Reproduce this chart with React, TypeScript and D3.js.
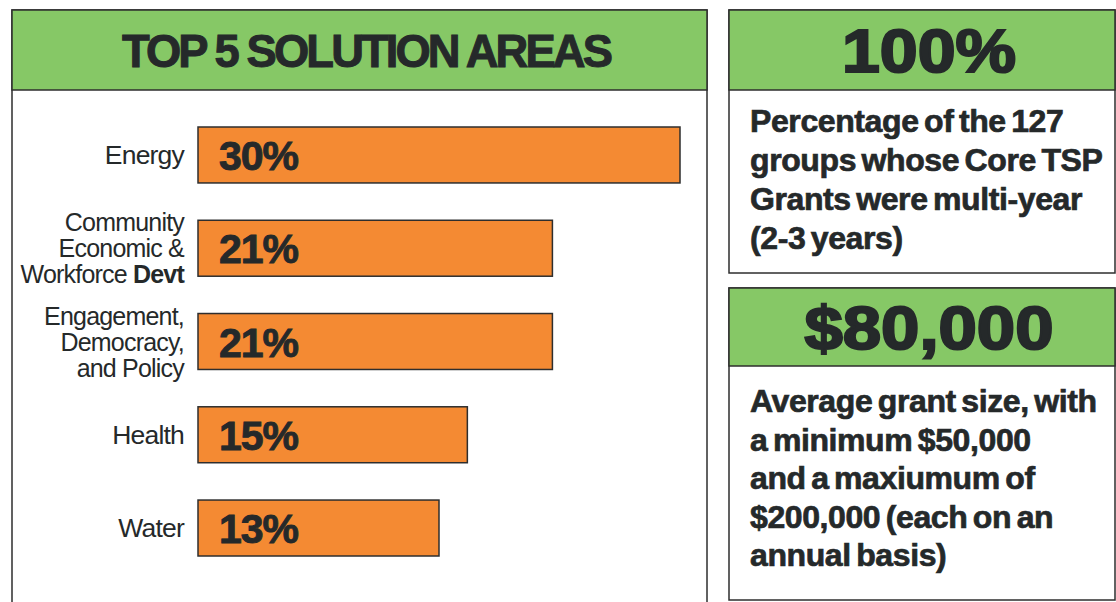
import React, { useEffect, useRef } from "react";
import * as d3 from "d3";

// chart data
const categories = ["Energy", "Community Economic & Workforce Devt", "Engagement, Democracy, and Policy", "Health", "Water"];
// label lines, "|" starts the bold part
const labelLines = [
  ["Energy"],
  ["Community", "Economic &", "Workforce |Devt"],
  ["Engagement,", "Democracy,", "and Policy"],
  ["Health"],
  ["Water"],
];
const shares = [30, 21, 21, 15, 13];
const title = "TOP 5 SOLUTION AREAS";

const statValues = ["100%", "$80,000"];
const statCaptions = [
  ["Percentage of the 127", "groups whose Core TSP", "Grants were multi-year", "(2-3 years)"],
  ["Average grant size, with", "a minimum $50,000", "and a maxiumum of", "$200,000 (each on an", "annual basis)"],
];

const GREEN = "#86c866";
const ORANGE = "#f48a33";
const INK = "#25292a";
const LINE = "#2e2e2e";

const App = () => {
  const ref = useRef<SVGSVGElement | null>(null);

  useEffect(() => {
    var svg = d3.select(ref.current);
    svg.selectAll("*").remove();

    // ---- left panel ----
    var left = svg.append("g");
    left
      .append("rect")
      .attr("x", 12)
      .attr("y", 10)
      .attr("width", 695)
      .attr("height", 640)
      .attr("fill", "#fff")
      .attr("stroke", LINE)
      .attr("stroke-width", 1.5);
    left
      .append("rect")
      .attr("x", 12)
      .attr("y", 10)
      .attr("width", 695)
      .attr("height", 80)
      .attr("fill", GREEN)
      .attr("stroke", LINE)
      .attr("stroke-width", 1.5);
    left
      .append("text")
      .attr("x", 122)
      .attr("y", 67)
      .attr("textLength", 488)
      .attr("lengthAdjust", "spacingAndGlyphs")
      .style("font-family", "'Liberation Sans Narrow', 'Arial Narrow', sans-serif")
      .style("font-weight", 700)
      .style("font-size", "47px")
      .style("letter-spacing", "-3px")
      .attr("fill", INK)
      .attr("stroke", INK)
      .attr("stroke-width", 1)
      .text(title);

    var x0 = 198;
    var xScale = d3.scaleLinear().domain([-4, 30]).range([0, 482]);
    var yScale = d3.scaleBand().domain(categories).range([127, 556]).paddingInner(0.4);

    var rows = left
      .selectAll(".row")
      .data(categories)
      .enter()
      .append("g")
      .attr("class", "row");

    rows
      .append("rect")
      .attr("x", x0)
      .attr("y", (d) => yScale(d) as number)
      .attr("width", (d, i) => xScale(shares[i]))
      .attr("height", yScale.bandwidth())
      .attr("fill", ORANGE)
      .attr("stroke", LINE)
      .attr("stroke-width", 1.5);

    rows
      .append("text")
      .attr("x", x0 + 21)
      .attr("y", (d) => (yScale(d) as number) + yScale.bandwidth() / 2 + 15)
      .style("font-family", "'Liberation Sans', Arial, sans-serif")
      .style("font-weight", 700)
      .style("font-size", "41px")
      .style("letter-spacing", "-1px")
      .attr("fill", INK)
      .attr("stroke", INK)
      .attr("stroke-width", 0.9)
      .text((d, i) => shares[i] + "%");

    var lh = 26;
    rows.each(function (d, i) {
      var lines = labelLines[i];
      var cy = (yScale(d) as number) + yScale.bandwidth() / 2;
      var t = d3
        .select(this)
        .append("text")
        .attr("text-anchor", "end")
        .style("font-family", "'Liberation Sans', Arial, sans-serif")
        .style("font-size", lines.length > 1 ? "25px" : "26.5px")
        .style("letter-spacing", "-0.8px")
        .attr("fill", INK);
      lines.forEach(function (ln, j) {
        var by = cy + (j - (lines.length - 1) / 2) * lh + 9;
        var parts = ln.split("|");
        t.append("tspan").attr("x", 184).attr("y", by).text(parts[0]);
        if (parts[1]) {
          t.append("tspan").style("font-weight", 700).text(parts[1]);
        }
      });
    });

    // ---- right stat panels ----
    var boxes = [
      { y: 10, head: 80, h: 263 },
      { y: 288, head: 78, h: 312 },
    ];
    var capStart = [132, 412];
    var capLh = [39, 38.5];
    var statW = [174, 249];

    boxes.forEach(function (b, k) {
      var g = svg.append("g");
      g.append("rect")
        .attr("x", 729)
        .attr("y", b.y)
        .attr("width", 386)
        .attr("height", b.h)
        .attr("fill", "#fff")
        .attr("stroke", LINE)
        .attr("stroke-width", 1.5);
      g.append("rect")
        .attr("x", 729)
        .attr("y", b.y)
        .attr("width", 386)
        .attr("height", b.head)
        .attr("fill", GREEN)
        .attr("stroke", LINE)
        .attr("stroke-width", 1.5);
      g.append("text")
        .attr("x", 929 - statW[k] / 2)
        .attr("y", b.y + b.head / 2 + 22)
        .attr("textLength", statW[k])
        .attr("lengthAdjust", "spacingAndGlyphs")
        .style("font-family", "'Liberation Sans', Arial, sans-serif")
        .style("font-weight", 700)
        .style("font-size", "62px")
        .attr("fill", INK)
        .attr("stroke", INK)
        .attr("stroke-width", 2.2)
        .text(statValues[k]);

      g.selectAll(".cap")
        .data(statCaptions[k])
        .enter()
        .append("text")
        .attr("x", 750)
        .attr("y", (d, j) => capStart[k] + j * capLh[k])
        .style("font-family", "'Liberation Sans', Arial, sans-serif")
        .style("font-weight", 700)
        .style("font-size", "32px")
        .style("letter-spacing", "-0.4px")
        .style("word-spacing", "-3px")
        .attr("fill", INK)
        .attr("stroke", INK)
        .attr("stroke-width", 0.7)
        .text((d) => d);
    });
  }, []);

  return (
    <svg
      ref={ref}
      width={1116}
      height={602}
      style={{ position: "absolute", left: 0, top: 0, background: "#fff" }}
    />
  );
};

export default App;
